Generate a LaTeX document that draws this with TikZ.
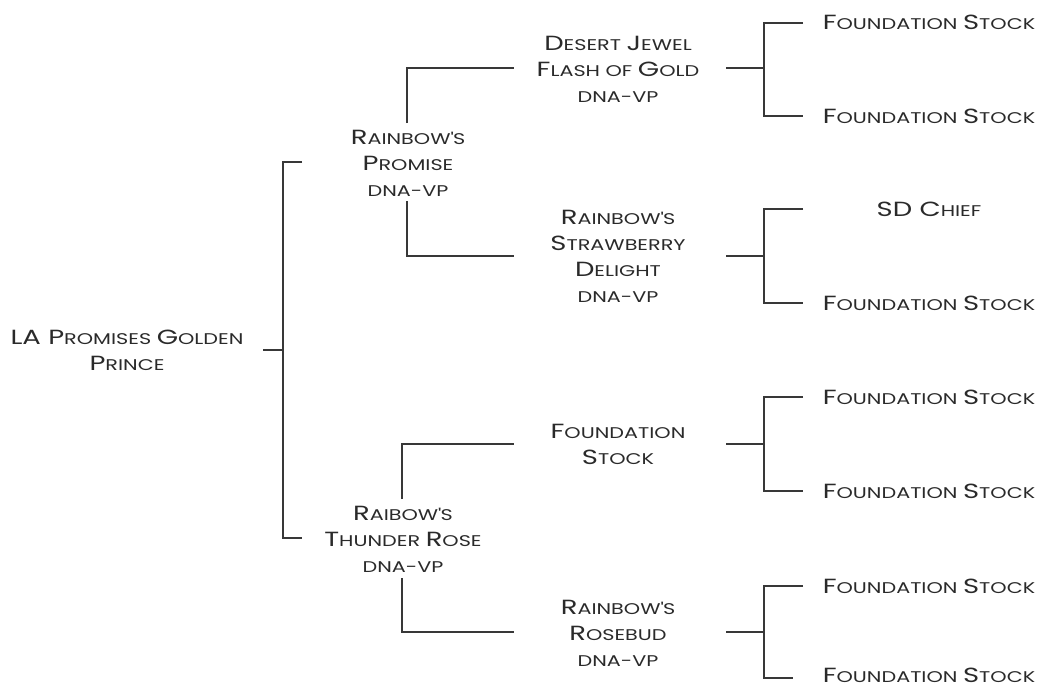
\documentclass[tikz,border=0pt]{standalone}
\usepackage{fontspec}
\setmainfont{Poppins}[FakeStretch=1.34]
\definecolor{ink}{HTML}{2A2A2A}
\definecolor{wire}{HTML}{383838}
\newcommand\Bg[1]{{\fontsize{20.5}{26}\selectfont #1}}
\newcommand\Sm[1]{{\fontsize{15.5}{26}\selectfont #1}}
\newcommand\ap{\XeTeXglyph\XeTeXcharglyph"27\relax}
\tikzset{
  lab/.style={text=ink, align=center, inner sep=0pt, font=\fontsize{15.5}{26}\selectfont},
  wirel/.style={draw=wire, line width=1.4pt}
}
\begin{document}
\begin{tikzpicture}[x=1pt,y=-1pt]
\useasboundingbox (0,0) rectangle (1041,688);
% nodes
\node[lab] (root) at (127,350) {\Bg{LA P}\Sm{ROMISES} \Bg{G}\Sm{OLDEN}\\\Bg{P}\Sm{RINCE}};
\node[lab] (rp) at (408,163) {\Bg{R}\Sm{AINBOW\ap S}\\\Bg{P}\Sm{ROMISE}\\\Sm{DNA-VP}};
\node[lab] (rtr) at (403,539) {\Bg{R}\Sm{AIBOW\ap S}\\\Bg{T}\Sm{HUNDER} \Bg{R}\Sm{OSE}\\\Sm{DNA-VP}};
\node[lab] (dj) at (618,69) {\Bg{D}\Sm{ESERT} \Bg{J}\Sm{EWEL}\\\Bg{F}\Sm{LASH OF} \Bg{G}\Sm{OLD}\\\Sm{DNA-VP}};
\node[lab] (rsd) at (618,256) {\Bg{R}\Sm{AINBOW\ap S}\\\Bg{S}\Sm{TRAWBERRY}\\\Bg{D}\Sm{ELIGHT}\\\Sm{DNA-VP}};
\node[lab] (fsm) at (618,444) {\Bg{F}\Sm{OUNDATION}\\\Bg{S}\Sm{TOCK}};
\node[lab] (rr) at (618,633) {\Bg{R}\Sm{AINBOW\ap S}\\\Bg{R}\Sm{OSEBUD}\\\Sm{DNA-VP}};
\foreach \nm/\yy in {f1/22,f2/116,f4/303,f5/397,f6/491,f7/586,f8/675}
  \node[lab] (\nm) at (929,\yy) {\Bg{F}\Sm{OUNDATION} \Bg{S}\Sm{TOCK}};
\node[lab] (sd) at (929,209) {\Bg{SD C}\Sm{HIEF}};
% root bracket
\coordinate (r0) at (263,350);
\coordinate (rj) at (283,350);
\coordinate (rt) at (283,162);
\coordinate (rb) at (283,538);
\coordinate (rte) at (302,162);
\coordinate (rbe) at (302,538);
\draw[wirel] (r0) -- (rj);
\draw[wirel] (rte) -- (rt) -- (rb) -- (rbe);
% gen 1 top
\coordinate (a1) at (407,123); \coordinate (a2) at (407,68); \coordinate (a3) at (514,68);
\coordinate (a4) at (407,201); \coordinate (a5) at (407,256); \coordinate (a6) at (514,256);
\draw[wirel] (a1) -- (a2) -- (a3);
\draw[wirel] (a4) -- (a5) -- (a6);
% gen 1 bottom
\coordinate (b1) at (402,499); \coordinate (b2) at (402,444); \coordinate (b3) at (514,444);
\coordinate (b4) at (402,578); \coordinate (b5) at (402,632); \coordinate (b6) at (514,632);
\draw[wirel] (b1) -- (b2) -- (b3);
\draw[wirel] (b4) -- (b5) -- (b6);
% gen 2 brackets
\foreach \i/\ym/\yt/\yb/\xe in {1/68/23/116/803, 2/256/209/303/803, 3/444/397/491/803, 4/632/586/678/793}{
  \coordinate (s\i) at (726,\ym);
  \coordinate (j\i) at (764,\ym);
  \coordinate (t\i) at (764,\yt);
  \coordinate (u\i) at (764,\yb);
  \coordinate (te\i) at (803,\yt);
  \coordinate (ue\i) at (\xe,\yb);
  \draw[wirel] (s\i) -- (j\i);
  \draw[wirel] (te\i) -- (t\i) -- (u\i) -- (ue\i);
}
\end{tikzpicture}
\end{document}
